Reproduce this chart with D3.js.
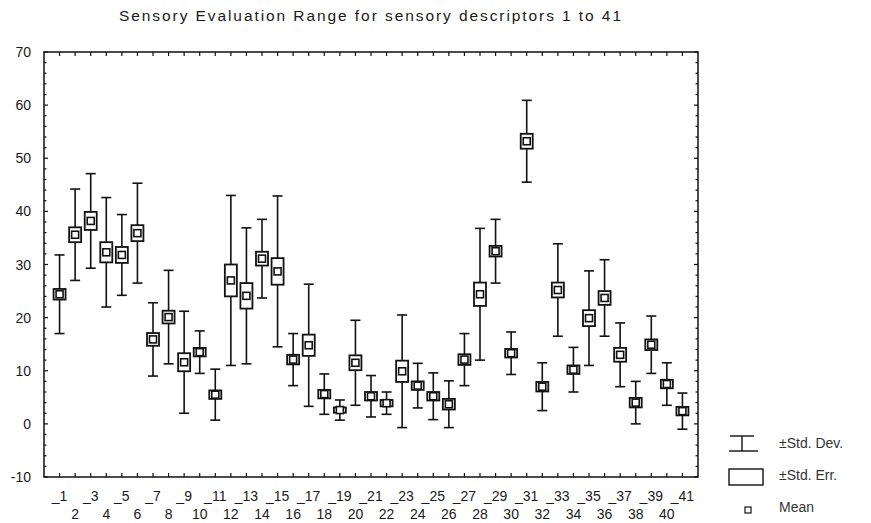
<!DOCTYPE html>
<html>
<head>
<meta charset="utf-8">
<script src="https://cdn.jsdelivr.net/npm/d3@7.9.0/dist/d3.min.js"></script>
<style>
  body { margin: 0; background: #fff; }
  text { font-family: "Liberation Sans", Arial, sans-serif; fill: #1a1a1a; }
</style>
</head>
<body>
<svg width="871" height="523"></svg>
<script>
// descriptor names, means, std devs and std errors
const labels = d3.range(1, 42).map((i) => '_' + i);
const means = [24.4, 35.6, 38.2, 32.3, 31.8, 35.9, 15.9, 20.1, 11.6, 13.5,
  5.5, 27.0, 24.1, 31.1, 28.7, 12.1, 14.8, 5.6, 2.6, 11.5,
  5.2, 3.9, 9.9, 7.2, 5.2, 3.7, 12.1, 24.4, 32.5, 13.3,
  53.2, 7.0, 25.2, 10.2, 19.9, 23.7, 13.0, 4.0, 14.9, 7.5, 2.4];
const sds = [7.4, 8.6, 8.9, 10.3, 7.6, 9.4, 6.9, 8.8, 9.6, 4.0,
  4.8, 16.0, 12.8, 7.4, 14.2, 4.9, 11.5, 3.8, 1.9, 8.0,
  3.9, 2.1, 10.6, 4.2, 4.4, 4.4, 4.9, 12.4, 6.0, 4.0,
  7.7, 4.5, 8.7, 4.2, 8.9, 7.2, 6.0, 4.0, 5.4, 4.0, 3.4];
const ses = [1.0, 1.4, 1.7, 1.9, 1.5, 1.5, 1.2, 1.2, 1.7, 0.8,
  0.8, 3.0, 2.4, 1.3, 2.5, 0.9, 2.0, 0.8, 0.5, 1.4,
  0.8, 0.6, 2.0, 0.8, 0.8, 1.0, 1.0, 2.2, 1.0, 0.8,
  1.4, 0.9, 1.4, 0.8, 1.5, 1.3, 1.3, 0.9, 1.0, 0.8, 0.8];
const yTicks = [-10, 0, 10, 20, 30, 40, 50, 60, 70];

const pLeft = 44, pRight = 698, pTop = 52, pBottom = 477;
const svg = d3.select('svg');

let x = d3.scalePoint().domain(labels).range([pLeft, pRight]).padding(1);
let y = d3.scaleLinear().domain([-10, 70]).range([pBottom, pTop]);

svg.append('text')
  .attr('x', 370).attr('y', 21)
  .attr('text-anchor', 'middle')
  .style('font-size', '15.5px')
  .attr('textLength', 502)
  .text('Sensory Evaluation Range for sensory descriptors 1 to 41');

// frame + ticks
svg.append('rect')
  .attr('x', pLeft).attr('y', pTop)
  .attr('width', pRight - pLeft).attr('height', pBottom - pTop)
  .attr('fill', 'none').attr('stroke', '#111').attr('stroke-width', 1.5);

let ax = svg.append('g').attr('stroke', '#111').attr('stroke-width', 1.2);
labels.forEach((d) => {
  ax.append('line').attr('x1', x(d)).attr('x2', x(d)).attr('y1', pBottom).attr('y2', pBottom - 4);
  ax.append('line').attr('x1', x(d)).attr('x2', x(d)).attr('y1', pTop).attr('y2', pTop + 4);
});
d3.range(-10, 71, 2).forEach((v) => {
  let len = v % 10 === 0 ? 4 : 2.5;
  ax.append('line').attr('x1', pLeft).attr('x2', pLeft + len).attr('y1', y(v)).attr('y2', y(v));
  ax.append('line').attr('x1', pRight).attr('x2', pRight - len).attr('y1', y(v)).attr('y2', y(v));
});

svg.selectAll('.ylab')
  .data(yTicks)
  .join('text')
  .attr('x', 31).attr('y', (d) => y(d) + 5)
  .attr('text-anchor', 'end')
  .style('font-size', '14px')
  .text((d) => d);

// staggered category labels: odd on first row, even below
svg.selectAll('.xlab')
  .data(labels)
  .join('text')
  .attr('x', (d) => x(d))
  .attr('y', (d, i) => i % 2 === 0 ? 501 : 519)
  .attr('text-anchor', 'middle')
  .style('font-size', '14px')
  .text((d, i) => i % 2 === 0 ? d : d.slice(1));

// whiskers, boxes, means
let marks = svg.append('g').attr('stroke', '#111').attr('fill', 'none');
labels.forEach((d, i) => {
  let cx = x(d);
  let hi = y(means[i] + sds[i]), lo = y(means[i] - sds[i]);
  marks.append('line').attr('x1', cx).attr('x2', cx).attr('y1', hi).attr('y2', lo).attr('stroke-width', 1.6);
  marks.append('line').attr('x1', cx - 5).attr('x2', cx + 5).attr('y1', hi).attr('y2', hi).attr('stroke-width', 1.6);
  marks.append('line').attr('x1', cx - 5).attr('x2', cx + 5).attr('y1', lo).attr('y2', lo).attr('stroke-width', 1.6);
  let bt = y(means[i] + ses[i]), bb = y(means[i] - ses[i]);
  marks.append('rect')
    .attr('x', cx - 6).attr('y', bt)
    .attr('width', 12).attr('height', bb - bt)
    .attr('fill', '#fff').attr('stroke-width', 1.8);
  marks.append('rect')
    .attr('x', cx - 3.5).attr('y', y(means[i]) - 3.5)
    .attr('width', 7).attr('height', 7)
    .attr('fill', '#fff').attr('stroke-width', 1.6);
});

// legend
let lg = svg.append('g').attr('stroke', '#111').attr('fill', 'none').attr('stroke-width', 1.4);
lg.append('line').attr('x1', 730).attr('x2', 754).attr('y1', 436).attr('y2', 436);
lg.append('line').attr('x1', 729).attr('x2', 758).attr('y1', 451).attr('y2', 451);
lg.append('line').attr('x1', 742).attr('x2', 742).attr('y1', 436).attr('y2', 451);
lg.append('rect').attr('x', 729).attr('y', 469).attr('width', 34).attr('height', 16);
lg.append('rect').attr('x', 745).attr('y', 507).attr('width', 6).attr('height', 6).attr('stroke-width', 1.2);

let legendText = ['\u00b1Std. Dev.', '\u00b1Std. Err.', 'Mean'];
svg.selectAll('.lgtext')
  .data(legendText)
  .join('text')
  .attr('x', 779)
  .attr('y', (d, i) => 448 + i * 32)
  .style('font-size', '14px')
  .style('fill', '#333')
  .text((d) => d);
</script>
</body>
</html>
